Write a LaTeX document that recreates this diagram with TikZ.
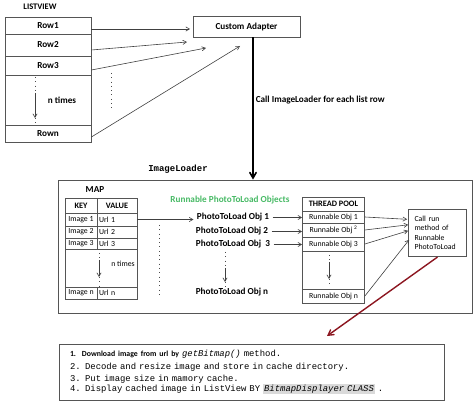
\documentclass[tikz,border=0pt]{standalone}
\usepackage{fontspec}
\setmainfont{Carlito}
\setmonofont{Liberation Mono}
\usetikzlibrary{positioning,arrows,calc}
\definecolor{boxgray}{RGB}{85,85,85}
\definecolor{objgreen}{RGB}{70,185,100}
\definecolor{darkred}{RGB}{140,22,32}
\definecolor{hlgray}{RGB}{218,218,218}
\setlength{\fboxsep}{1pt}
\tikzset{
    >=angle 60,
    box/.style = {
        draw=boxgray,
        shape=rectangle,
        line width=0.8pt,
        inner sep=1pt
    },
    cell/.style = {
        box,
        font=\fontsize{7.8}{8}\selectfont
    },
    valcell/.style = {
        cell,
        text width=36pt,
        inner xsep=2pt,
        align=left
    },
    head/.style = {
        cell,
        font=\bfseries\fontsize{8.3}{9}\selectfont
    },
    title/.style = {
        font=\bfseries\fontsize{9.2}{10}\selectfont
    },
    link/.style = {
        draw=black!75,
        line width=0.6pt,
        ->
    },
    dots/.style = {
        draw=black!70,
        line width=0.7pt,
        dash pattern=on 0.8pt off 3.5pt
    },
}

\begin{document}
\begin{tikzpicture}[x=1pt, y=-1pt]
    \useasboundingbox (0,0) rectangle (474,406);

    % list view
    \node[title, font=\bfseries\fontsize{8.5}{9}\selectfont] (listtitle) at (40,7) {LISTVIEW};
    \node[box, title, minimum width=86, minimum height=17] (row1) at (48,25.5) {Row1\hspace{14pt}};
    \node[box, title, minimum width=86, minimum height=22] (row2) at (48,45) {Row2\hspace{16pt}};
    \node[box, title, minimum width=86, minimum height=19] (row3) at (48,65.5) {Row3\hspace{14pt}};
    \node[box, minimum width=86, minimum height=50] (rowmid) at (48,100) {};
    \node[box, title, minimum width=86, minimum height=17] (rown) at (48,133.5) {Rown\hspace{8pt}};
    \node[title] (listn) at (62,100) {n times};
    \coordinate (lista) at (35,77);
    \coordinate (listb) at (35,93);
    \coordinate (listc) at (35,118);
    \coordinate (listd) at (35,125);
    \path[dots] (lista) -- (listb);
    \path[link] (listb) -- (listc);
    \path[dots] (listc) -- (listd);
    \coordinate (gapa) at (111,73);
    \coordinate (gapb) at (111,110);
    \path[dots] (gapa) -- (gapb);

    % adapter
    \node[box, title, minimum width=107, minimum height=21] (adapter) at (246.5,26.5) {Custom Adapter\hspace{14pt}};
    \coordinate (tip1) at (190,29);
    \coordinate (tip2) at (187,42);
    \coordinate (tip3) at (206,48);
    \coordinate (tip4) at (240,46);
    \path[link] ($(row1.east)+(0,3.5)$) -- (tip1);
    \path[link] ($(row2.east)+(0,5)$) -- (tip2);
    \path[link] ($(row3.east)+(0,4.5)$) -- (tip3);
    \path[link] ($(rown.east)+(0,3.5)$) -- (tip4);

    % image loader
    \node[box, minimum width=414, minimum height=133] (loader) at (265,246.5) {};
    \node[font=\ttfamily\bfseries\fontsize{9}{10}\selectfont] (loadertitle) at (178,169) {ImageLoader};
    \coordinate (callstart) at ($(adapter.south)+(6.5,0)$);
    \path[draw, ->, line width=1.6pt] (callstart) -- (callstart |- loader.north)
        node[pos=0.44, right, title, inner xsep=2pt] {Call ImageLoader for each list row};

    % map
    \node[title] (maptitle) at (95,190) {MAP};
    \node[head, minimum width=32, minimum height=15] (keyhead) at (81,205.5) {KEY};
    \node[head, minimum width=40, minimum height=15] (valhead) at (117,205.5) {VALUE};
    \node[cell, minimum width=32, minimum height=13] (key1) at (81,219.5) {Image 1};
    \node[valcell, minimum height=13] (url1) at (117,219.5) {Url 1};
    \node[cell, minimum width=32, minimum height=12] (key2) at (81,232) {Image 2};
    \node[valcell, minimum height=12] (url2) at (117,232) {Url 2};
    \node[cell, minimum width=32, minimum height=11] (key3) at (81,243.5) {Image 3};
    \node[valcell, minimum height=11] (url3) at (117,243.5) {Url 3};
    \node[cell, minimum width=72, minimum height=38] (mapmid) at (101,268) {};
    \node[cell, minimum width=32, minimum height=12] (keyn) at (81,293) {Image n};
    \node[valcell, minimum height=12] (urln) at (117,293) {Url n};
    \node[font=\fontsize{7.8}{8}\selectfont] (mapn) at (123,264) {n times};
    \coordinate (mapa) at (99,253);
    \coordinate (mapb) at (99,260);
    \coordinate (mapc) at (99,277);
    \coordinate (mapd) at (99,288);
    \path[dots] (mapa) -- (mapb);
    \path[link] (mapb) -- (mapc);
    \path[dots] (mapc) -- (mapd);
    \coordinate (mapgapa) at (159,225);
    \coordinate (mapgapb) at (159,297);
    \path[dots] (mapgapa) -- (mapgapb);

    % runnable objects
    \node[title, text=objgreen] (objtitle) at (230,200) {Runnable PhotoToLoad Objects};
    \node[title] (obj1) at (233,217.5) {PhotoToLoad Obj 1};
    \node[title] (obj2) at (232,231.5) {PhotoToLoad Obj 2};
    \node[title] (obj3) at (233,244.5) {PhotoToLoad Obj\ \ 3};
    \node[title] (objn) at (232,292) {PhotoToLoad Obj n};
    \path[link] (url1.east) -- (url1.east -| obj1.west);
    \coordinate (obja) at (225,252);
    \coordinate (objb) at (225,268);
    \coordinate (objc) at (225,282);
    \coordinate (objd) at (225,288);
    \path[dots] (obja) -- (objb);
    \path[link] (objb) -- (objc);
    \path[dots] (objc) -- (objd);

    % thread pool
    \node[head, minimum width=62, minimum height=14] (poolhead) at (333.5,204) {THREAD POOL};
    \node[cell, minimum width=62, minimum height=12] (pool1) at (333.5,217) {Runnable Obj 1};
    \node[cell, minimum width=62, minimum height=14] (pool2) at (333.5,230) {Runnable Obj\ \textsuperscript{2}};
    \node[cell, minimum width=62, minimum height=14] (pool3) at (333.5,244) {Runnable Obj 3};
    \node[cell, minimum width=62, minimum height=38] (poolmid) at (333.5,270) {};
    \node[cell, minimum width=62, minimum height=14] (pooln) at (333.5,296) {Runnable Obj n};
    \path[link] (obj1.east) -- (obj1.east -| pool1.west);
    \path[link] (obj2.east) -- (obj2.east -| pool2.west);
    \path[link] (obj3.east) -- (obj3.east -| pool3.west);
    \coordinate (poola) at (329,255);
    \coordinate (poolb) at (329,262);
    \coordinate (poolc) at (329,279);
    \coordinate (poold) at (329,286);
    \path[dots] (poola) -- (poolb);
    \path[link] (poolb) -- (poolc);
    \path[dots] (poolc) -- (poold);

    % call run
    \node[box, font=\fontsize{7.8}{9.3}\selectfont, text width=46pt, inner xsep=6pt,
        minimum height=47.7, align=left] (callrun) at (437.5,232.8)
        {Call run\\method of\\Runnable\\PhotoToLoad};
    \path[link] (pool1.east) -- ($(callrun.west)+(-1,-13.5)$);
    \path[link] (pool2.east) -- ($(callrun.west)+(0,-8)$);
    \path[link] (pool3.east) -- ($(callrun.west)+(0,-2)$);
    \path[link] (pooln.east) -- ($(callrun.west)+(1,7)$);

    % steps
    \node[box, minimum width=385, minimum height=56, text width=363pt, inner xsep=11pt, align=left,
        font=\ttfamily\fontsize{8.9}{10.5}\selectfont] (steps) at (251.5,372)
        {{\rmfamily\bfseries\fontsize{7.8}{8}\selectfont 1.\ \ Download image from url by} \textit{getBitmap()} method.\\[2.5pt]
        2. Decode and resize image and store in cache directory.\\[1.5pt]
        3. Put image size in mamory cache.\\
        4. Display cached image in ListView BY \colorbox{hlgray}{\textit{BitmapDisplayer CLASS}} .};
    \coordinate (redtip) at (327,336);
    \path[draw=darkred, ->, line width=1.4pt] (callrun.south) -- (redtip);
\end{tikzpicture}
\end{document}
